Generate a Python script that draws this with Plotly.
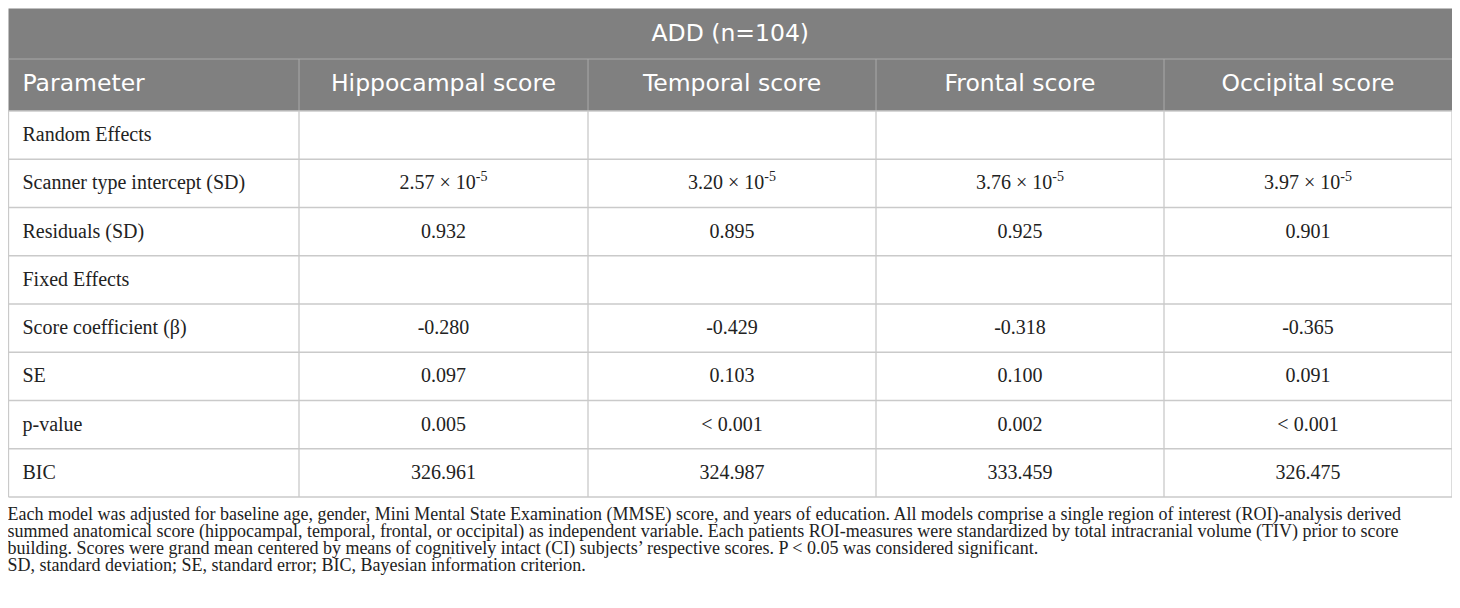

"""
Mixed model table for ADD patients, redrawn with plotly (text traces + shapes).
"""

import plotly.graph_objects as go

# data
title = 'ADD (n=104)'
columns = ['Parameter', 'Hippocampal score', 'Temporal score', 'Frontal score', 'Occipital score']
parameters = ['Random Effects', 'Scanner type intercept (SD)', 'Residuals (SD)', 'Fixed Effects',
              'Score coefficient (β)', 'SE', 'p-value', 'BIC']
hippocampal = ['', '2.57 × 10<sup>-5</sup>', '0.932', '', '-0.280', '0.097', '0.005', '326.961']
temporal = ['', '3.20 × 10<sup>-5</sup>', '0.895', '', '-0.429', '0.103', '&lt; 0.001', '324.987']
frontal = ['', '3.76 × 10<sup>-5</sup>', '0.925', '', '-0.318', '0.100', '0.002', '333.459']
occipital = ['', '3.97 × 10<sup>-5</sup>', '0.901', '', '-0.365', '0.091', '&lt; 0.001', '326.475']
footnotes = [
  'Each model was adjusted for baseline age, gender, Mini Mental State Examination (MMSE) score, and years of education. All models comprise a single region of interest (ROI)-analysis derived',
  'summed anatomical score (hippocampal, temporal, frontal, or occipital) as independent variable. Each patients ROI-measures were standardized by total intracranial volume (TIV) prior to score',
  'building. Scores were grand mean centered by means of cognitively intact (CI) subjects’ respective scores. P &lt; 0.05 was considered significant.',
  'SD, standard deviation; SE, standard error; BIC, Bayesian information criterion.',
]

# geometry / style, in page pixels (the html body keeps an 8px margin)
page_w, page_h, body_margin = 1460, 608, 8
left, top = 8.5, 8.5
col_w = [290.5, 289, 288, 288, 288]
title_h, header_h, row_h = 50.5, 52, 48.25
pad = 14
note_top, note_step = 515.5, 17

head_fill = '#808080'
head_line = '#a9a9a9'
grid = '#cacaca'
ink = '#222222'
sans = 'DejaVu Sans'
serif = 'Liberation Serif'

edges = [left]
for w in col_w:
  edges.append(edges[-1] + w)
right = edges[-1]
head_top = top + title_h
body_top = head_top + header_h
n_rows = len(parameters)
row_edges = [body_top + row_h * i for i in range(n_rows + 1)]
row_mid = [body_top + row_h * (i + 0.5) + 1 for i in range(n_rows)]
col_mid = [(edges[i] + edges[i + 1]) / 2 for i in range(len(col_w))]

fig = go.Figure()

# header fills and lines
shapes = [
  dict(type='rect', x0=left, x1=right, y0=top, y1=body_top, fillcolor=head_fill, line_width=0, layer='below'),
  dict(type='line', x0=left, x1=right, y0=head_top, y1=head_top, line=dict(color=head_line, width=1)),
]
for x in edges[1:-1]:
  shapes.append(dict(type='line', x0=x, x1=x, y0=head_top, y1=body_top, line=dict(color=head_line, width=1)))
for y in row_edges:
  shapes.append(dict(type='line', x0=left, x1=right, y0=y, y1=y, line=dict(color=grid, width=1.3)))
for x in edges:
  shapes.append(dict(type='line', x0=x, x1=x, y0=body_top, y1=row_edges[-1], line=dict(color=grid, width=1.3)))

# title and header text
head_font = dict(family=sans, size=23.5, color='white')
fig.add_trace(go.Scatter(x=[(left + right) / 2], y=[top + title_h / 2 + 1], text=[title], mode='text',
                         textposition='middle center', textfont=head_font,
                         hoverinfo='skip', showlegend=False))
fig.add_trace(go.Scatter(x=[left + pad], y=[head_top + header_h / 2], text=[columns[0]], mode='text',
                         textposition='middle right', textfont=head_font,
                         hoverinfo='skip', showlegend=False))
fig.add_trace(go.Scatter(x=col_mid[1:], y=[head_top + header_h / 2] * 4, text=columns[1:], mode='text',
                         textposition='middle center', textfont=head_font,
                         hoverinfo='skip', showlegend=False))

# body
fig.add_trace(go.Scatter(x=[left + pad] * n_rows, y=row_mid, text=parameters, mode='text',
                         textposition='middle right', textfont=dict(family=serif, size=20, color=ink),
                         hoverinfo='skip', showlegend=False))
for i, vals in enumerate([hippocampal, temporal, frontal, occipital]):
  fig.add_trace(go.Scatter(x=[col_mid[i + 1]] * n_rows, y=row_mid, text=vals, mode='text',
                           textposition='middle center', textfont=dict(family=serif, size=20, color=ink),
                           hoverinfo='skip', showlegend=False))

# footnote
fig.add_trace(go.Scatter(x=[left - 1] * len(footnotes), y=[note_top + note_step * i for i in range(len(footnotes))],
                         text=footnotes, mode='text', textposition='middle right',
                         textfont=dict(family=serif, size=18, color=ink), hoverinfo='skip', showlegend=False))

fig_w = page_w - 2 * body_margin
fig_h = page_h - 2 * body_margin
fig.update_layout(width=fig_w, height=fig_h, margin=dict(l=0, r=0, t=0, b=0),
                  paper_bgcolor='white', plot_bgcolor='white', shapes=shapes,
                  xaxis=dict(range=[body_margin, body_margin + fig_w], visible=False, fixedrange=True),
                  yaxis=dict(range=[body_margin + fig_h, body_margin], visible=False, fixedrange=True))

fig.write_html('out.html')
